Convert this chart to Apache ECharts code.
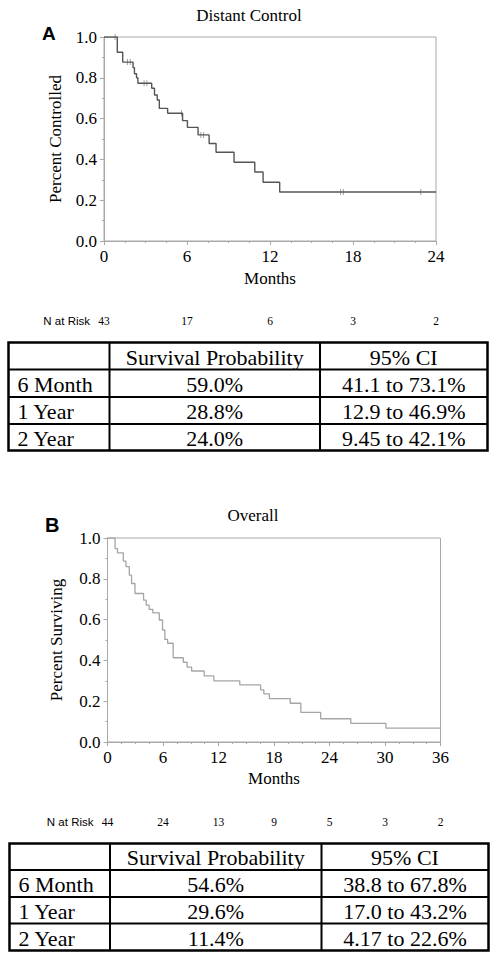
<!DOCTYPE html>
<html>
<head>
<meta charset="utf-8">
<script src="https://cdn.jsdelivr.net/npm/echarts@6/dist/echarts.min.js"></script>
<style>
html,body{margin:0;padding:0;background:#fff;}
#chart{width:496px;height:959px;}
</style>
</head>
<body>
<div id="chart"></div>
<script>
// ---------- Data ----------
// Panel A: Distant Control (Kaplan-Meier steps: [month, proportion])
const kmDistant = [
  [0, 1.0], [0.96, 0.925], [1.35, 0.877], [2.1, 0.85], [2.2, 0.82], [2.35, 0.80], [2.45, 0.773],
  [3.45, 0.749], [3.65, 0.716], [3.85, 0.691], [4.0, 0.65], [4.6, 0.626], [5.68, 0.590],
  [6.03, 0.557], [6.8, 0.52], [7.6, 0.478], [8.1, 0.435], [9.4, 0.386], [10.9, 0.338],
  [11.5, 0.288], [12.7, 0.24], [24, 0.24]
];
const censorDistant = [
  [0.8, 1.0], [1.7, 0.877], [1.9, 0.877], [2.9, 0.773], [3.1, 0.773], [5.6, 0.626],
  [7.0, 0.52], [7.2, 0.52], [17.1, 0.24], [17.3, 0.24], [22.9, 0.24]
];
const riskTicksA = [0, 6, 12, 18, 24];
const nRiskA = [43, 17, 6, 3, 2];

// Panel B: Overall
const kmOverall = [
  [0, 1.0], [0.82, 0.948], [1.08, 0.927], [1.71, 0.887], [2.0, 0.86], [2.36, 0.818],
  [2.6, 0.777], [2.97, 0.728], [3.9, 0.695], [4.18, 0.671], [4.5, 0.65], [4.9, 0.633],
  [5.6, 0.598], [5.95, 0.549], [6.2, 0.503], [6.5, 0.484], [7.1, 0.413], [8.2, 0.391],
  [8.6, 0.367], [9.1, 0.348], [10.45, 0.324], [11.5, 0.30], [14.3, 0.28], [16.55, 0.256],
  [16.9, 0.236], [17.5, 0.213], [19.75, 0.19], [20.9, 0.145], [23.05, 0.114],
  [26.3, 0.091], [30.1, 0.068], [36, 0.068]
];
const riskTicksB = [0, 6, 12, 18, 24, 30, 36];
const nRiskB = [44, 24, 13, 9, 5, 3, 2];

// Tables
const tableHeader = ['', 'Survival Probability', '95% CI'];
const rowLabels = ['6 Month', '1 Year', '2 Year'];
const probA = ['59.0%', '28.8%', '24.0%'];
const ciA = ['41.1 to 73.1%', '12.9 to 46.9%', '9.45 to 42.1%'];
const probB = ['54.6%', '29.6%', '11.4%'];
const ciB = ['38.8 to 67.8%', '17.0 to 43.2%', '4.17 to 22.6%'];

// ---------- Chart ----------
const SERIF = '"Liberation Serif", "Times New Roman", serif';
const SANS = '"Liberation Sans", Arial, sans-serif';
const AX = '#a8a8a8';

const chart = echarts.init(document.getElementById('chart'), null, {renderer: 'svg'});

function mainX(gi, max, nameGap) {
  return {
    gridIndex: gi, type: 'value', min: 0, max: max, interval: 6,
    axisLine: {show: true, lineStyle: {color: AX, width: 1}},
    axisTick: {show: true, length: 4, lineStyle: {color: AX}},
    minorTick: {show: true, splitNumber: 4, length: 2, lineStyle: {color: AX}},
    splitLine: {show: false},
    axisLabel: {color: '#000', fontFamily: SERIF, fontSize: 17, margin: 7},
    name: 'Months', nameLocation: 'middle', nameGap: nameGap,
    nameTextStyle: {color: '#000', fontFamily: SERIF, fontSize: 17}
  };
}
function riskX(gi, max, ticks, counts) {
  return {
    gridIndex: gi, type: 'value', min: 0, max: max, interval: 6,
    position: 'bottom', offset: 80,
    axisLine: {show: false}, axisTick: {show: false}, splitLine: {show: false},
    axisLabel: {
      color: '#000', fontFamily: SERIF, fontSize: 11.5, margin: 0, verticalAlign: 'middle',
      formatter: function (v) { const i = ticks.indexOf(v); return i >= 0 ? String(counts[i]) : ''; }
    },
    name: 'N at Risk', nameLocation: 'start', nameGap: 14,
    nameTextStyle: {color: '#000', fontFamily: SANS, fontSize: 11.5, verticalAlign: 'middle'}
  };
}
function mainY(gi, name, gap) {
  return {
    gridIndex: gi, type: 'value', min: 0, max: 1, interval: 0.2,
    axisLine: {show: true, lineStyle: {color: AX}},
    axisTick: {show: true, length: 4, lineStyle: {color: AX}},
    minorTick: {show: true, splitNumber: 2, length: 2, lineStyle: {color: AX}},
    splitLine: {show: false},
    axisLabel: {color: '#000', fontFamily: SERIF, fontSize: 17, margin: 7,
      formatter: function (v) { return v.toFixed(1); }},
    name: name, nameLocation: 'middle', nameGap: gap, nameRotate: 90,
    nameTextStyle: {color: '#000', fontFamily: SERIF, fontSize: 17}
  };
}

// Table graphics
function tableGraphics(left, right, top, bottom, colX, rowY, probs, cis) {
  const els = [];
  els.push({type: 'rect', shape: {x: left, y: top, width: right - left, height: bottom - top},
    style: {fill: '#fff', stroke: '#000', lineWidth: 2.5}});
  colX.forEach(function (cx) {
    els.push({type: 'line', shape: {x1: cx, y1: top, x2: cx, y2: bottom}, style: {stroke: '#000', lineWidth: 2}});
  });
  rowY.forEach(function (ry) {
    els.push({type: 'line', shape: {x1: left, y1: ry, x2: right, y2: ry}, style: {stroke: '#000', lineWidth: 2}});
  });
  const ys = [top].concat(rowY).concat([bottom]);
  const c2 = (colX[0] + colX[1]) / 2, c3 = (colX[1] + right) / 2;
  const font = '22px ' + SERIF;
  function txt(t, x, y, align) {
    els.push({type: 'text', style: {text: t, x: x, y: y, fill: '#000', font: font, align: align, verticalAlign: 'middle'}});
  }
  const hy = (ys[0] + ys[1]) / 2 + 1;
  txt(tableHeader[1], c2, hy, 'center');
  txt(tableHeader[2], c3, hy, 'center');
  for (let i = 0; i < rowLabels.length; i++) {
    const y = (ys[i + 1] + ys[i + 2]) / 2 + 1;
    txt(rowLabels[i], left + 9, y, 'left');
    txt(probs[i], c2, y, 'center');
    txt(cis[i], c3, y, 'center');
  }
  return els;
}

const graphics = []
  .concat(tableGraphics(8.5, 487.5, 342.5, 450.5, [109.5, 320], [369.5, 397, 424], probA, ciA))
  .concat(tableGraphics(9.5, 488.5, 843.5, 950.5, [110, 321.5], [870, 897, 923.5], probB, ciB))
  .concat([
    {type: 'text', style: {text: 'A', x: 42, y: 33, fill: '#000', font: 'bold 19px ' + SANS, verticalAlign: 'middle'}},
    {type: 'text', style: {text: 'B', x: 45, y: 525, fill: '#000', font: 'bold 20px ' + SANS, verticalAlign: 'middle'}}
  ]);

const option = {
  animation: false,
  backgroundColor: '#fff',
  title: [
    {text: 'Distant Control', left: 244, top: 2, textAlign: 'center',
      textStyle: {fontFamily: SERIF, fontSize: 17, fontWeight: 'normal', color: '#000'}},
    {text: 'Overall', left: 248, top: 502, textAlign: 'center',
      textStyle: {fontFamily: SERIF, fontSize: 17, fontWeight: 'normal', color: '#000'}}
  ],
  grid: [
    {left: 104, top: 37, width: 332, height: 204, show: true, borderColor: AX, borderWidth: 1, backgroundColor: 'transparent'},
    {left: 107.5, top: 538, width: 333, height: 204, show: true, borderColor: AX, borderWidth: 1, backgroundColor: 'transparent'}
  ],
  xAxis: [
    mainX(0, 24, 29), riskX(0, 24, riskTicksA, nRiskA),
    mainX(1, 36, 28), riskX(1, 36, riskTicksB, nRiskB)
  ],
  yAxis: [mainY(0, 'Percent Controlled', 40), mainY(1, 'Percent Surviving', 43)],
  series: [
    {type: 'line', xAxisIndex: 0, yAxisIndex: 0, data: kmDistant, step: 'end', showSymbol: false,
      lineStyle: {color: '#555', width: 1.4}, silent: true},
    {type: 'scatter', xAxisIndex: 0, yAxisIndex: 0, data: censorDistant, symbol: 'rect', symbolSize: [1, 6],
      itemStyle: {color: '#888'}, silent: true},
    {type: 'line', xAxisIndex: 2, yAxisIndex: 1, data: kmOverall, step: 'end', showSymbol: false,
      lineStyle: {color: '#a5a5a5', width: 1.3}, silent: true}
  ],
  graphic: graphics
};
chart.setOption(option);
</script>
</body>
</html>
